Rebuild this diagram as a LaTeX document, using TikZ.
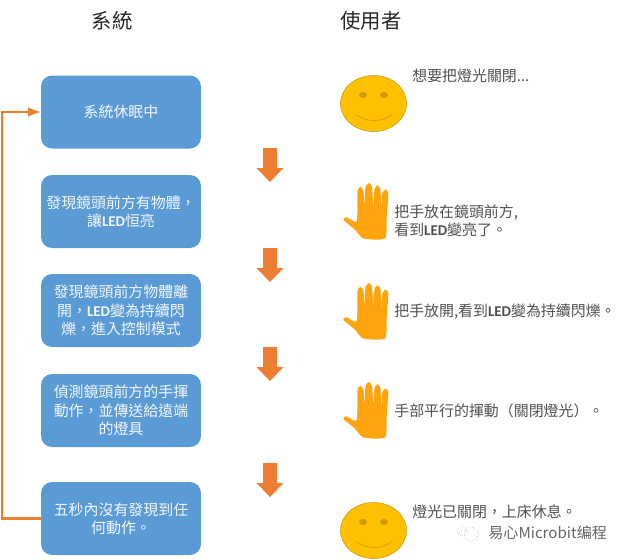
\documentclass[tikz,border=0pt]{standalone}
\usepackage{fontspec}
\setmainfont{Noto Sans CJK TC}
\newfontfamily\ledfont{Carlito}
\usepackage{tikz}
\definecolor{boxblue}{HTML}{5B9BD5}
\definecolor{arroworange}{HTML}{ED7D31}
\definecolor{facegold}{HTML}{FFC000}
\definecolor{faceedge}{HTML}{C49400}
\definecolor{handorange}{HTML}{FFA30F}
\definecolor{saygray}{HTML}{505050}
\newcommand{\led}{{\ledfont\bfseries LED}}
\tikzset{
	stagebox/.style={fill=boxblue, rounded corners=0.22cm, minimum width=3.2cm, minimum height=1.46cm, inner sep=0pt, align=center, text=white!92!boxblue, font=\fontsize{8.5}{10.4}\selectfont},
	saytext/.style={anchor=west, inner sep=0pt, align=left, text=saygray, font=\fontsize{8.5}{10.3}\selectfont},
	headtext/.style={text=black!85, inner sep=0pt, font=\fontsize{11.6}{13}\selectfont}
}
\begin{document}
\begin{tikzpicture}[x=0.02cm, y=-0.02cm]
\useasboundingbox (0,0) rectangle (625,559);
\node[headtext] (headsystem) at (112,21) {系統};
\node[headtext] (headuser) at (371,21) {使用者};

\node[stagebox] (sleep) at (121,112) {系統休眠中};
\node[stagebox] (found) at (121,211.5) {發現鏡頭前方有物體，\\讓\led 恒亮};
\node[stagebox] (leave) at (121,310.5) {發現鏡頭前方物體離\\開，\led 變為持續閃\\爍，進入控制模式};
\node[stagebox] (wave) at (121,410.5) {偵測鏡頭前方的手揮\\動作，並傳送給遠端\\的燈具};
\node[stagebox] (idle) at (121,518.5) {五秒內沒有發現到任\\何動作。};

\coordinate (backcorner) at (2,518.5);
\draw[arroworange, line width=0.05cm, -{latex}](idle.west)--(backcorner)|-(sleep.west);

\foreach \y in {148,248,347,463}{
	\fill[arroworange](263,\y)--(277,\y)--(277,\y+20)--(283.5,\y+20)--(270,\y+34)--(256.5,\y+20)--(263,\y+20)--cycle;
}

\foreach \y in {103.5,530.5}{
	\draw[faceedge, fill=facegold, line width=0.1mm](373.5,\y) ellipse (33 and 28);
	\fill[faceedge!85!facegold](363,\y-8.5) ellipse (4 and 3);
	\fill[faceedge!85!facegold](384,\y-8.5) ellipse (4 and 3);
	\draw[faceedge, line width=0.1mm](356,\y+11) .. controls (366,\y+19) and (382,\y+19) .. (392,\y+11);
}

\foreach \y in {0,100,199}{
	\begin{scope}[yshift=-\y*0.02cm]
	\fill[handorange] plot[smooth cycle, tension=0.35] coordinates {(343.3,219.7)(346.7,217.3)(356.7,221.3)(357.5,191)(360.5,187)(363.5,191)(364.5,206)(365.5,187)(369,183)(372,187)(373.3,206)(374.5,189)(377.5,185.3)(380.5,189)(381,208)(382.5,193)(385.5,189.7)(388.3,193)(386.7,218)(385,238.5)(363.3,238.5)(355,229.7)};
	\end{scope}
}

\node[saytext] (saywant) at (412,75.5) {想要把燈光關閉...};
\node[saytext] (sayplace) at (394,221) {把手放在鏡頭前方,\\看到\led 變亮了。};
\node[saytext] (sayopen) at (394,311.5) {把手放開,看到\led 變為持續閃爍。};
\node[saytext] (saymove) at (394,410.5) {手部平行的揮動（關閉燈光）。};
\node[saytext] (saydone) at (412,511.5) {燈光已關閉，上床休息。};

\node[saytext, text=black!60, font=\fontsize{8.6}{10}\selectfont] (mark) at (488,533) {易心Microbit编程};
\draw[black!45, line width=0.1mm, densely dotted](471,534) circle (7);
\draw[black!45, line width=0.1mm, densely dotted](462,531) circle (5);
\end{tikzpicture}
\end{document}
